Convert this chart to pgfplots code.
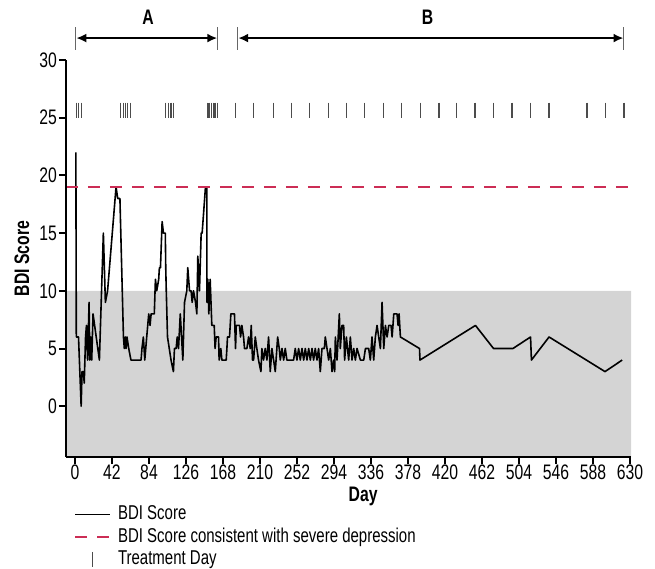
\documentclass[border=0pt]{standalone}
\usepackage{fontspec}
\setmainfont{Liberation Sans}[FakeStretch=0.75]
\usepackage{pgfplots}
\pgfplotsset{compat=1.18}
\usetikzlibrary{arrows.meta}
\definecolor{sevred}{RGB}{204,45,85}
\definecolor{bandgray}{RGB}{212,212,212}
\begin{document}
\begin{tikzpicture}
\path[use as bounding box] (-33pt,-56pt) rectangle (294.5pt,228.5pt);
\begin{axis}[
  at={(0,0)}, anchor=south west,
  scale only axis, width=282.5pt, height=198.5pt,
  xmin=-10.2, xmax=631, ymin=-4.4, ymax=30,
  axis x line=bottom, axis y line=left,
  axis line style={line width=1.2pt, -},
  axis on top=true,
  clip=false,
  tick align=outside,
  major tick length=3.5pt,
  tick style={line width=1pt, black},
  xtick={0,42,...,630}, ytick={0,5,...,30},
  /pgf/number format/assume math mode=true,
  /pgf/number format/1000 sep={},
  ticklabel style={font=\fontsize{10.5}{12}\selectfont},
  yticklabel style={inner sep=0.8pt},
  xticklabel style={inner sep=0.3pt},
  xlabel={\textbf{Day}}, ylabel={\textbf{BDI Score}},
  xlabel style={at={(axis description cs:0.526,-0.058)}, anchor=north, font=\fontsize{10.5}{12}\selectfont},
  ylabel style={at={(axis description cs:-0.078,0.5)}, anchor=center, rotate=0, font=\fontsize{10.5}{12}\selectfont},
  legend style={at={(axis description cs:0.0,-0.115)}, xshift=4pt, anchor=north west, draw=none, fill=none,
    inner sep=0pt, row sep=0pt, font=\fontsize{10}{11}\selectfont,
    nodes={inner sep=1.25pt, text height=7pt, text depth=1.75pt},
    /tikz/every odd column/.append style={column sep=2.5pt}},
  legend cell align=left,
]
\addplot[draw=none, fill=bandgray, forget plot] coordinates {(-10.2,-4.4) (631,-4.4) (631,10) (-10.2,10)} \closedcycle;
\addplot[black, line width=0.8pt, line join=round] coordinates {
(1,22) (1.5,6) (4,6) (7,0) (8,3) (9.5,3) (10.5,2) (12,6) (13,7) (14.3,4) (16,9) (16.8,4) (18,6) (19,4) (20.5,8) (27.7,4) (32.2,15) (34.5,9) (37,10) (46.6,19) (48.5,18) (51,18) (55,6) (56,5) (57,6) (58,5) (59,6) (61,5) (63.5,4) (75,4) (76,5) (77.6,6) (79.2,4) (81.4,6) (83.7,8) (85.2,7) (86.4,8) (90,8) (91.3,11) (92.8,10) (95,11) (95.8,12) (97,12) (98.9,16) (100.4,15) (102.5,15) (103,12) (103.6,10) (105,6) (107,5) (109,4) (111.7,3) (112.9,5) (114.8,5) (116,6) (117.5,5) (119.5,8) (122.4,4) (124.3,9) (126.9,10) (128,12) (130,10) (131.8,10) (133,9) (134.5,10) (136.8,9) (138.3,8) (139.4,13) (141.3,10) (143.2,15) (144.3,15) (148.1,19) (149.6,19) (149.8,9) (150.8,11) (151.9,8) (153.4,11) (155.3,7) (158,7) (159,5) (160.2,6) (162.9,6) (163.6,4) (165.5,5) (166.7,4) (171.6,4) (172.4,5) (173.1,6) (175.4,6) (176.9,8) (181,8) (182.2,5) (183,7) (186.7,7) (187.9,6) (189.4,7) (191.3,6) (192.4,5) (195.1,5) (197,6) (198.9,5) (200,7) (201.5,4) (202.7,4) (204.6,6) (206.4,5) (208.3,4) (211,3) (212.1,5) (214,4) (215.9,5) (217.8,4) (219.7,6) (221.6,3) (223.5,5) (225.4,4) (227.3,3) (230,6) (231.8,5) (233,4) (234.9,5) (236.8,4) (238.6,5) (240.5,4) (248.1,4) (250,5) (251.9,4) (253.8,5) (255.7,4) (257.6,5) (259.5,4) (261.4,5) (263.3,4) (265.2,5) (267.1,4) (269,5) (270.8,4) (272.7,5) (274.6,4) (276.5,5) (278.4,3) (280.3,5) (283,5) (284.1,6) (286,5) (287.9,4) (289.8,5) (291.7,3) (293.6,4) (294.7,3) (295.5,6) (297.4,4) (300,8) (301.1,5) (303,7) (304.9,7) (306,4) (308,6) (310.6,4) (312.5,6) (314.4,4) (316.3,5) (318.2,4) (320.1,5) (323.9,4) (327.7,4) (329.6,5) (333.3,5) (335.2,4) (337.1,6) (339,4) (340.9,6) (342.8,7) (344.7,6) (346.6,5) (348.5,9) (350.4,5) (352.3,7) (354.2,6) (356.1,7) (358.7,7) (359.9,6) (361.8,8) (365.5,8) (366.7,7) (367.8,8) (369.3,6) (391,5) (391.5,4) (454.5,7) (475,5) (497,5) (517,6) (518,4) (538,6) (601.5,3) (621,4)
};
\addlegendentry{BDI Score}
\addplot[sevred, line width=1pt, dash pattern=on 6pt off 5pt] coordinates {(-10.2,19) (631,19)};
\addlegendentry{BDI Score consistent with severe depression}
\addplot[only marks, mark=|, mark size=3.75pt, black!70, mark options={line width=0.6pt}] coordinates {
(2,25.65) (4,25.65) (7,25.65)
(52,25.65) (55,25.65) (57,25.65) (60,25.65) (63,25.65)
(103,25.65) (106,25.65) (109,25.65) (112,25.65)
(150,25.65) (152,25.65) (155,25.65) (157,25.65) (159,25.65) (162,25.65)
(182,25.65) (203,25.65) (225,25.65) (246,25.65) (266,25.65) (288,25.65) (308,25.65) (329,25.65) (350,25.65) (371,25.65) (392,25.65) (413,25.65) (433,25.65) (454,25.65) (475,25.65) (496,25.65) (517,25.65) (538,25.65) (581,25.65) (602,25.65) (623,25.65)
};
\addlegendentry{Treatment Day}
% period annotations
\draw[black!60, line width=0.5pt] (axis cs:1,30.9) -- (axis cs:1,32.9);
\draw[black!60, line width=0.5pt] (axis cs:162,30.9) -- (axis cs:162,32.9);
\draw[black!60, line width=0.5pt] (axis cs:184.7,30.9) -- (axis cs:184.7,32.9);
\draw[black!60, line width=0.5pt] (axis cs:623,30.9) -- (axis cs:623,32.9);
\draw[line width=1.3pt, {Latex[length=5pt,width=4.5pt]}-{Latex[length=5pt,width=4.5pt]}] (axis cs:1.5,31.9) -- (axis cs:161.5,31.9);
\draw[line width=1.3pt, {Latex[length=5pt,width=4.5pt]}-{Latex[length=5pt,width=4.5pt]}] (axis cs:185.2,31.9) -- (axis cs:622.5,31.9);
\node[font=\bfseries\fontsize{10.5}{12}\selectfont] at (axis cs:83,33.7) {A};
\node[font=\bfseries\fontsize{10.5}{12}\selectfont] at (axis cs:400,33.7) {B};
\end{axis}
\end{tikzpicture}
\end{document}
